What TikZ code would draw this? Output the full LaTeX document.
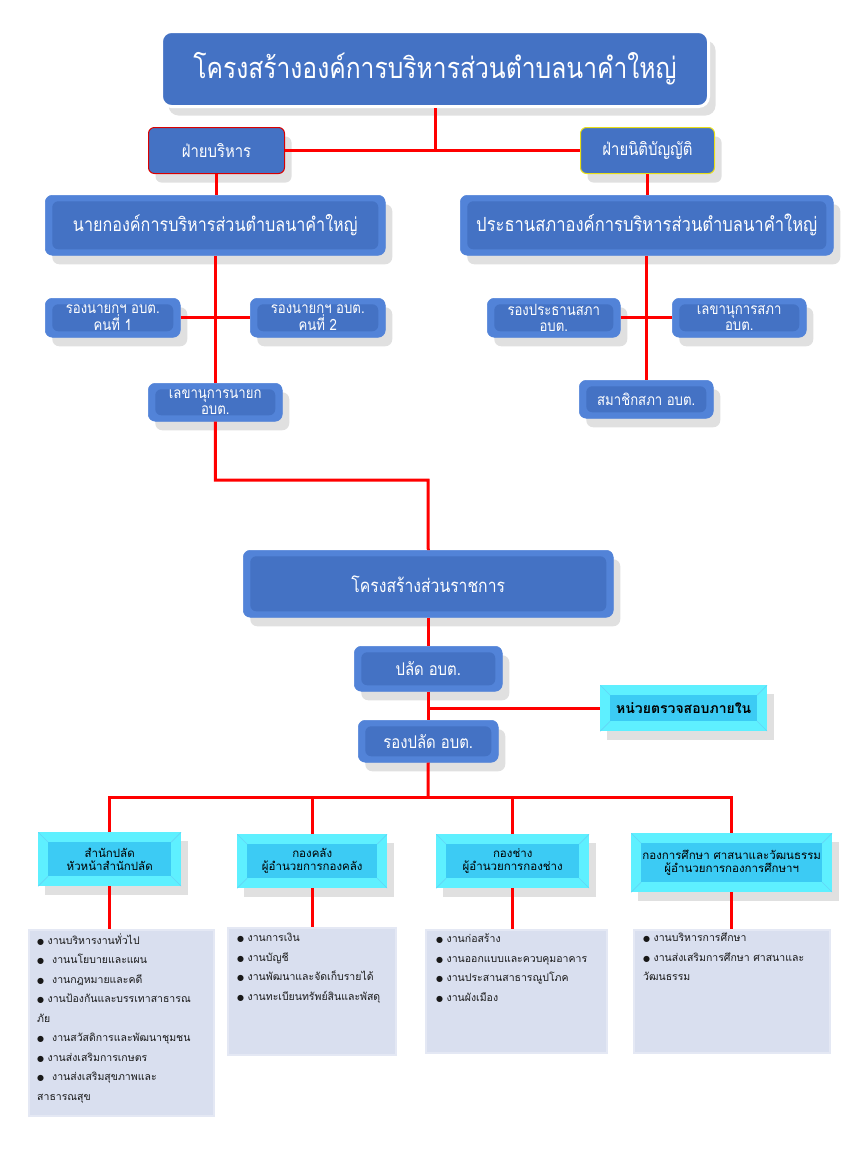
\documentclass[tikz,border=0pt]{standalone}
\usepackage{fontspec}
\setmainfont[Script=Thai]{Loma}
\newfontfamily\cond[Script=Thai,FakeStretch=0.85]{Loma}
\newfontfamily\symfont{DejaVu Sans}
\newcommand\mybul{{\symfont\fontsize{8}{8}\selectfont ●}}
\usetikzlibrary{shadows}
\definecolor{boxblue}{HTML}{4472C4}
\definecolor{edgeblue}{HTML}{5283D8}
\definecolor{cyanbase}{HTML}{3CCBF4}
\definecolor{cyanlight}{HTML}{5EF0FF}
\definecolor{listfill}{HTML}{D9DFEF}
\definecolor{listedge}{HTML}{E4E8F4}
\definecolor{linered}{HTML}{FF0000}
\begin{document}
\begin{tikzpicture}[x=1pt,y=-1pt,
  base/.style={anchor=north west, inner sep=0pt, align=center},
  sh/.style={drop shadow={opacity=0.22, shadow xshift=7pt, shadow yshift=-9pt, fill=black!55}},
  bluebox/.style={base, sh, fill=edgeblue, draw=edgeblue, line width=0.5pt, rounded corners=7pt, text=white,
    path picture={\fill[boxblue, rounded corners=6pt]
      ([xshift=7pt,yshift=-6pt]path picture bounding box.north west) rectangle
      ([xshift=-7pt,yshift=6pt]path picture bounding box.south east);}},
  cyanbox/.style={base, sh, fill=cyanlight, text=black,
    path picture={\fill[cyanbase]
      ([xshift=10pt,yshift=-10pt]path picture bounding box.north west) rectangle
      ([xshift=-10pt,yshift=10pt]path picture bounding box.south east);
      \draw[cyanbase!80!white, line width=0.6pt]
      (path picture bounding box.north west) -- ++(10pt,-10pt)
      (path picture bounding box.north east) -- ++(-10pt,-10pt)
      (path picture bounding box.south west) -- ++(10pt,10pt)
      (path picture bounding box.south east) -- ++(-10pt,10pt);}},
  listbox/.style={base, fill=listfill, draw=listedge, line width=2pt},
  listtext/.style={anchor=north west, inner sep=0pt, align=left, text=black!90,
    font=\fontsize{10.5}{19.5}\selectfont},
  conn/.style={draw=linered, line width=3pt},
  smallf/.style={font=\cond\fontsize{15.5}{16}\selectfont}
]
\useasboundingbox (0,0) rectangle (866,1160);

% ---- top level ----
\node[base, sh, fill=boxblue, draw=white, line width=3pt, rounded corners=10pt, text=white,
  minimum width=547pt, minimum height=75pt, font=\cond\fontsize{29}{32}\selectfont] (title) at (160,30)
  {โครงสร้างองค์การบริหารส่วนตำบลนาคำใหญ่};

\node[base, sh, fill=boxblue, draw=red!85!black, line width=1pt, rounded corners=6pt, text=white,
  minimum width=136pt, minimum height=46pt, font=\cond\fontsize{17.5}{20}\selectfont] (exec) at (148,127) {ฝ่ายบริหาร};
\node[base, sh, fill=boxblue, draw=yellow!90!black, line width=1pt, rounded corners=6pt, text=white,
  minimum width=134pt, minimum height=46pt, font=\cond\fontsize{17.5}{20}\selectfont] (leg) at (580,127) {ฝ่ายนิติบัญญัติ};

\node[bluebox, minimum width=340pt, minimum height=60pt, font=\cond\fontsize{19}{22}\selectfont] (mayor) at (45,195)
  {นายกองค์การบริหารส่วนตำบลนาคำใหญ่};
\node[bluebox, minimum width=373pt, minimum height=60pt, font=\cond\fontsize{19.5}{22}\selectfont] (pres) at (460,195)
  {ประธานสภาองค์การบริหารส่วนตำบลนาคำใหญ่};

\node[bluebox, smallf, minimum width=135pt, minimum height=39pt] (dep1) at (45,298)
  {รองนายกฯ อบต.\\คนที่ 1};
\node[bluebox, smallf, minimum width=135pt, minimum height=39pt] (dep2) at (250,298)
  {รองนายกฯ อบต.\\คนที่ 2};
\node[bluebox, smallf, minimum width=134pt, minimum height=38pt] (msec) at (148,383)
  {เลขานุการนายก\\อบต.};

\node[bluebox, smallf, minimum width=133pt, minimum height=39pt] (vp) at (487,298)
  {รองประธานสภา\\อบต.};
\node[bluebox, smallf, minimum width=134pt, minimum height=39pt] (csec) at (672,298)
  {เลขานุการสภา\\อบต.};
\node[bluebox, smallf, minimum width=134pt, minimum height=38pt] (mem) at (579,380)
  {สมาชิกสภา อบต.};

% ---- government section ----
\node[bluebox, minimum width=370pt, minimum height=67pt, font=\cond\fontsize{18.5}{21}\selectfont] (gov) at (243,550)
  {โครงสร้างส่วนราชการ};
\node[bluebox, minimum width=148pt, minimum height=45pt, font=\cond\fontsize{17.5}{20}\selectfont] (palad) at (354,646)
  {ปลัด อบต.};
\node[bluebox, minimum width=140pt, minimum height=42pt, font=\cond\fontsize{17.5}{20}\selectfont] (rp) at (358,720)
  {รองปลัด อบต.};
\node[cyanbox, minimum width=167pt, minimum height=46pt, font=\bfseries\fontsize{14}{16}\selectfont] (audit) at (600,685)
  {หน่วยตรวจสอบภายใน};

\node[cyanbox, minimum width=143pt, minimum height=54pt, font=\fontsize{11.5}{13}\selectfont] (d1) at (38,832)
  {สำนักปลัด\\หัวหน้าสำนักปลัด};
\node[cyanbox, minimum width=150pt, minimum height=54pt, font=\fontsize{11.5}{13}\selectfont] (d2) at (237,834)
  {กองคลัง\\ผู้อำนวยการกองคลัง};
\node[cyanbox, minimum width=153pt, minimum height=54pt, font=\fontsize{11.5}{13}\selectfont] (d3) at (436,834)
  {กองช่าง\\ผู้อำนวยการกองช่าง};
\node[cyanbox, minimum width=201pt, minimum height=59pt, font=\fontsize{11.5}{13}\selectfont] (d4) at (631,833)
  {กองการศึกษา ศาสนาและวัฒนธรรม\\ผู้อำนวยการกองการศึกษาฯ};

% ---- list boxes ----
\node[listbox, minimum width=185pt, minimum height=186pt] (l1) at (28,929) {};
\node[listbox, minimum width=168pt, minimum height=127pt] (l2) at (227,927) {};
\node[listbox, minimum width=181pt, minimum height=123pt] (l3) at (425,929) {};
\node[listbox, minimum width=196pt, minimum height=123pt] (l4) at (633,929) {};

\node[listtext] (t1) at (37,933)
  {\mybul\ งานบริหารงานทั่วไป\\
   \mybul\hspace{8pt}งานนโยบายและแผน\\
   \mybul\hspace{8pt}งานกฎหมายและคดี\\
   \mybul\ งานป้องกันและบรรเทาสาธารณ\\
   ภัย\\
   \mybul\hspace{8pt}งานสวัสดิการและพัฒนาชุมชน\\
   \mybul\ งานส่งเสริมการเกษตร\\
   \mybul\hspace{8pt}งานส่งเสริมสุขภาพและ\\
   สาธารณสุข};
\node[listtext] (t2) at (237,933)
  {\mybul\ งานการเงิน\\
   \mybul\ งานบัญชี\\
   \mybul\ งานพัฒนาและจัดเก็บรายได้\\
   \mybul\ งานทะเบียนทรัพย์สินและพัสดุ};
\node[listtext] (t3) at (436,934)
  {\mybul\ งานก่อสร้าง\\
   \mybul\ งานออกแบบและควบคุมอาคาร\\
   \mybul\ งานประสานสาธารณูปโภค\\
   \mybul\ งานผังเมือง};
\node[listtext] (t4) at (643,933)
  {\mybul\ งานบริหารการศึกษา\\
   \mybul\ งานส่งเสริมการศึกษา ศาสนาและ\\
   วัฒนธรรม};

% ---- connectors ----
\coordinate (bend) at (428,480);
\coordinate (bus) at (428,797);
\path[conn] (title.south) -- (title.south |- exec.east);
\path[conn] (exec.east) -- (leg.west);
\path[conn] (exec.south) -- (exec.south |- mayor.north);
\path[conn] (leg.south) -- (leg.south |- pres.north);
\path[conn] (mayor.south) -- (mayor.south |- msec.north);
\path[conn] (dep1.east) -- (dep2.west);
\path[conn] (pres.south) -- (pres.south |- mem.north);
\path[conn] (vp.east) -- (csec.west);
\path[conn] (msec.south) |- (bend) -- (gov.north);
\path[conn] (gov.south) -- (palad.north);
\path[conn] (palad.south) -- (rp.north);
\path[conn] (palad.south |- audit.west) -- (audit.west);
\path[conn] (rp.south) -- (bus);
\path[conn] (d1.north) |- (bus) -| (d4.north);
\path[conn] (d2.north) -- (d2.north |- bus);
\path[conn] (d3.north) -- (d3.north |- bus);
\path[conn] (d1.south) -- (d1.south |- l1.north);
\path[conn] (d2.south) -- (d2.south |- l2.north);
\path[conn] (d3.south) -- (d3.south |- l3.north);
\path[conn] (d4.south) -- (d4.south |- l4.north);
\end{tikzpicture}
\end{document}
